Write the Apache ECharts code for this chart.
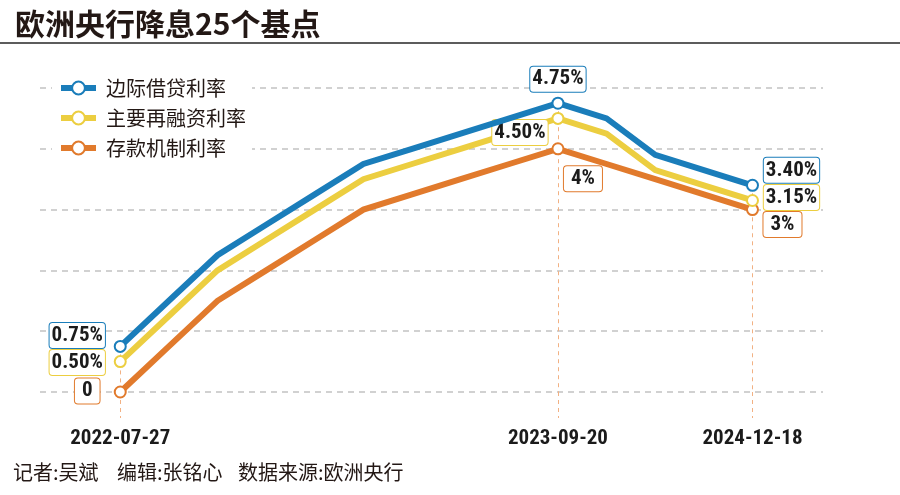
<!DOCTYPE html>
<html>
<head>
<meta charset="utf-8">
<script src="https://cdn.jsdelivr.net/npm/echarts@6/dist/echarts.min.js"></script>
<style>html,body{margin:0;padding:0;background:#fff;}#chart{width:900px;height:495px;}</style>
</head>
<body>
<div id="chart"></div>
<script>
// ---- data ----
const titleText = '欧洲央行降息25个基点';
const footerParts = ['记者:吴斌', '编辑:张铭心', '数据来源:欧洲央行'];
const seriesNames = ['边际借贷利率', '主要再融资利率', '存款机制利率'];
const dates = ['2022-07-27','2022-09-14','2022-11-02','2022-12-21','2023-02-08','2023-03-22','2023-05-10','2023-06-21','2023-08-02','2023-09-20','2024-06-12','2024-09-18','2024-10-23','2024-12-18'];
const mlfRate = [0.75,1.50,2.25,2.75,3.25,3.75,4.00,4.25,4.50,4.75,4.50,3.90,3.65,3.40];
const mroRate = [0.50,1.25,2.00,2.50,3.00,3.50,3.75,4.00,4.25,4.50,4.25,3.65,3.40,3.15];
const dfrRate = [0.00,0.75,1.50,2.00,2.50,3.00,3.25,3.50,3.75,4.00,3.75,3.50,3.25,3.00];
const labelDates = ['2022-07-27','2023-09-20','2024-12-18'];
const mlfLabels = ['0.75%','4.75%','3.40%'];
const mroLabels = ['0.50%','4.50%','3.15%'];
const dfrLabels = ['0','4%','3%'];
const yTicks = [0,1,2,3,4,5];

// ---- styles ----
const colors = ['#1a7dba', '#ecce40', '#e17a2c'];
const narrow = "'Liberation Sans Narrow','Arial Narrow','Roboto Condensed','Liberation Sans',sans-serif";
const cjk = "'Noto Sans CJK SC','Noto Sans',sans-serif";
const labelIdx = labelDates.map(d => dates.indexOf(d));
// label offsets (px) relative to the point, per series, per labelled date
const offsets = [
  [[-43,-11],[0,-24],[39,-15]],
  [[-43,1],[-38,14],[39,-3]],
  [[-33,-1],[25,30],[30,15]]
];
const footerX = [13, 117, 238];
const valuesList = [mlfRate, mroRate, dfrRate];
const labelsList = [mlfLabels, mroLabels, dfrLabels];

function buildData(si) {
  const vals = valuesList[si];
  return dates.map((d, i) => {
    const k = labelIdx.indexOf(i);
    const item = { value: [i, vals[i]], symbolSize: k >= 0 ? 11 : 0 };
    if (k >= 0) {
      const txt = labelsList[si][k];
      item.label = {
        show: true,
        position: 'inside',
        offset: offsets[si][k],
        formatter: txt,
        backgroundColor: '#fff',
        borderColor: colors[si],
        borderWidth: 1,
        borderRadius: 3,
        padding: txt.length < 3 ? [3, 7, 1, 7] : [3, 2, 1, 2],
        fontFamily: narrow,
        fontWeight: 'bold',
        fontSize: 21,
        color: '#1b1b1b'
      };
    } else {
      item.label = { show: false };
    }
    return item;
  });
}

const series = seriesNames.map((name, si) => {
  const s = {
    name: name,
    type: 'line',
    data: buildData(si),
    symbol: 'emptyCircle',
    showSymbol: true,
    z: 10 - si,
    lineStyle: { width: 6, color: colors[si], join: 'miter' },
    itemStyle: { color: colors[si], borderWidth: 2.5 },
    emphasis: { disabled: true },
    silent: true
  };
  if (si === 2) {
    s.markLine = {
      silent: true,
      z: 1,
      symbol: ['none', 'none'],
      label: { show: false },
      lineStyle: { color: '#f2b183', type: [4, 4], width: 1 },
      data: labelIdx.map(i => [{ coord: [i, mlfRate[i]] }, { coord: [i, 0] }])
    };
  }
  return s;
});

const chart = echarts.init(document.getElementById('chart'), null, { renderer: 'canvas' });
chart.setOption({
  animation: false,
  backgroundColor: '#fff',
  title: {
    text: titleText,
    left: 10,
    top: 4,
    textStyle: { fontFamily: cjk, fontSize: 30, fontWeight: 'bold', color: '#231815' }
  },
  graphic: [
    { type: 'rect', left: 0, top: 42, shape: { width: 900, height: 2 }, style: { fill: '#5c5c5c' } }
  ].concat(footerParts.map((t, i) => ({
    type: 'text', left: footerX[i], top: 462,
    style: { text: t, font: "20px 'Noto Sans CJK SC'", fill: '#231815' }
  }))),
  legend: {
    data: seriesNames,
    orient: 'vertical',
    left: 52,
    top: 74,
    itemWidth: 35,
    itemHeight: 16,
    itemGap: 10,
    padding: [4, 6, 4, 6],
    backgroundColor: '#fff',
    selectedMode: false,
    lineStyle: { width: 6 },
    textStyle: { fontFamily: cjk, fontSize: 20, color: '#231815', lineHeight: 20, padding: [0, 0, 0, 5] }
  },
  grid: { left: 40, right: 77, top: 88, bottom: 103, containLabel: false },
  xAxis: {
    type: 'value',
    min: -1.65,
    max: 14.45,
    splitLine: { show: false },
    axisLine: { show: false },
    axisTick: {
      show: true,
      customValues: labelIdx,
      length: 26,
      lineStyle: { color: '#f2b183', type: [4, 4], width: 1 }
    },
    axisLabel: {
      show: true,
      customValues: labelIdx,
      margin: 36,
      formatter: v => dates[Math.round(v)] || '',
      fontFamily: narrow,
      fontWeight: 'bold',
      fontSize: 21,
      color: '#1b1b1b'
    }
  },
  yAxis: {
    type: 'value',
    min: yTicks[0],
    max: yTicks[yTicks.length - 1],
    interval: 1,
    axisLine: { show: false },
    axisTick: { show: false },
    axisLabel: { show: false },
    splitLine: { show: true, lineStyle: { color: '#c2c2c2', type: [6, 5], width: 1.5 } }
  },
  series: series
});
</script>
</body>
</html>
